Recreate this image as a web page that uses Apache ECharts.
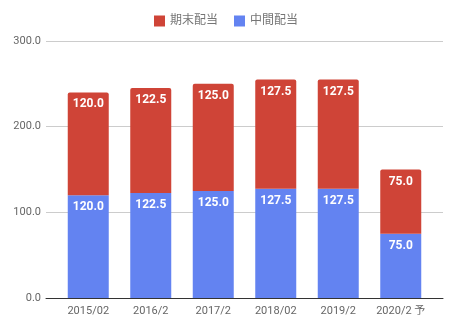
<!DOCTYPE html>
<html><head><meta charset="utf-8">
<script src="https://cdn.jsdelivr.net/npm/echarts@6/dist/echarts.min.js"></script>
<style>html,body{margin:0;padding:0;background:#fff}#c{width:452px;height:328px}</style>
</head><body><div id="c"></div>
<script>
const categories = ['2015/02','2016/2','2017/2','2018/02','2019/2','2020/2 予'];
const interim = [120.0,122.5,125.0,127.5,127.5,75.0];
const yearEnd = [120.0,122.5,125.0,127.5,127.5,75.0];
const yTicks = [0,100,200,300];

const chart = echarts.init(document.getElementById('c'));
const font = 'Roboto, "Noto Sans CJK JP", sans-serif';
const lbl = {show:true, position:'insideTop', distance:6, color:'#fff', fontWeight:'bold', fontSize:12, fontFamily:font, formatter:p=>p.value.toFixed(1)};
chart.setOption({
  animation:false,
  legend:{top:10, left:'center', itemWidth:11, itemHeight:11, itemGap:16, icon:'rect',
    textStyle:{color:'#757575', fontSize:12, fontFamily:font},
    data:['期末配当','中間配当']},
  grid:[{left:46,right:9,top:41,bottom:30},{left:57,right:20,top:41,bottom:30}],
  xAxis:[
    {gridIndex:0,type:'category',data:categories,axisLine:{lineStyle:{color:'#333'}},axisTick:{show:false},axisLabel:{show:false}},
    {gridIndex:1,type:'category',data:categories,axisLine:{show:false},axisTick:{show:false},
      axisLabel:{color:'#666',fontSize:11,fontFamily:font,margin:8,interval:0}}
  ],
  yAxis:[
    {gridIndex:0,type:'value',min:0,max:300,interval:100,
      axisLabel:{color:'#666',fontSize:11,fontFamily:font,formatter:v=>v.toFixed(1),margin:5},
      splitLine:{lineStyle:{color:'#ccc'}},axisLine:{show:false},axisTick:{show:false}},
    {gridIndex:1,type:'value',min:0,max:300,interval:100,show:false}
  ],
  series:[
    {name:'中間配当',type:'bar',stack:'a',xAxisIndex:1,yAxisIndex:1,data:interim,barWidth:41,
      itemStyle:{color:'#6383f1',borderRadius:[0,0,0,0]},label:lbl},
    {name:'期末配当',type:'bar',stack:'a',xAxisIndex:1,yAxisIndex:1,data:yearEnd,barWidth:41,
      itemStyle:{color:'#cf4437',borderRadius:[2,2,0,0]},label:lbl}
  ]
});
</script></body></html>
